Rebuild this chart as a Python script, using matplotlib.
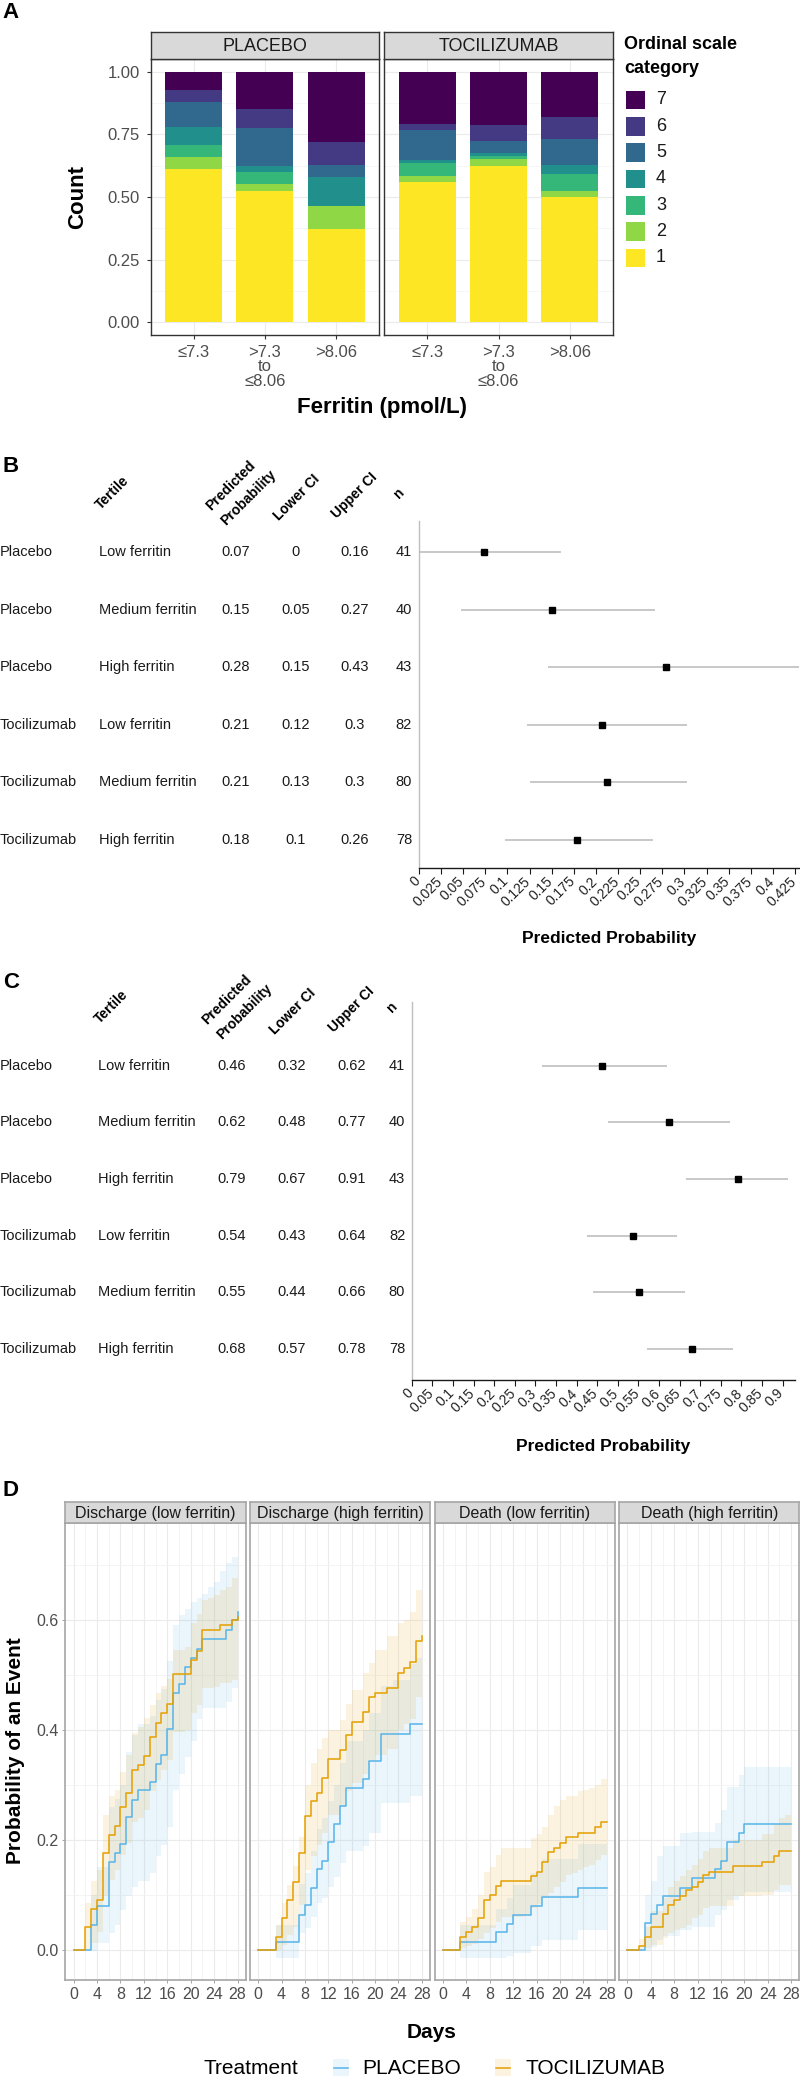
import numpy as np
import matplotlib.pyplot as plt
import matplotlib.transforms as mtransforms
from matplotlib.patches import Rectangle

plt.rcParams['font.family'] = ['Liberation Sans', 'DejaVu Sans']

# ---------------- Panel A: ordinal scale by ferritin tertile ----------------
ferritin_labels = ['≤7.3', '>7.3\nto\n≤8.06', '>8.06']
arm_names = ['PLACEBO', 'TOCILIZUMAB']
ordinal_cats = ['1', '2', '3', '4', '5', '6', '7']
# rows = category 1..7, columns = ferritin tertile
placebo_counts = [[25, 21, 16], [2, 1, 4], [2, 2, 0], [3, 1, 5], [4, 6, 2], [2, 3, 4], [3, 6, 12]]
toc_counts = [[46, 50, 39], [2, 2, 2], [4, 1, 5], [1, 1, 3], [10, 4, 8], [2, 5, 7], [17, 17, 14]]
ordinal_colors = ['#FDE725', '#8FD744', '#35B779', '#21908C', '#31688E', '#443A83', '#440154']

# ---------------- Panels B and C: predicted probabilities ----------------
arm_rows = ['Placebo', 'Placebo', 'Placebo', 'Tocilizumab', 'Tocilizumab', 'Tocilizumab']
tertile_rows = ['Low ferritin', 'Medium ferritin', 'High ferritin'] * 2
n_rows = [41, 40, 43, 82, 80, 78]
b_est = [0.073, 0.150, 0.279, 0.207, 0.212, 0.179]
b_lo = [0.0, 0.048, 0.146, 0.122, 0.126, 0.097]
b_hi = [0.160, 0.267, 0.432, 0.303, 0.303, 0.264]
c_est = [0.4625, 0.625, 0.791, 0.536, 0.551, 0.679]
c_lo = [0.317, 0.477, 0.6655, 0.426, 0.440, 0.571]
c_hi = [0.620, 0.772, 0.914, 0.644, 0.663, 0.779]

# ---------------- Panel D: cumulative incidence ----------------
days = list(range(29))
facet_titles = ['Discharge (low ferritin)', 'Discharge (high ferritin)',
                'Death (low ferritin)', 'Death (high ferritin)']
treatments = ['PLACEBO', 'TOCILIZUMAB']
treat_colors = ['#56B4E9', '#E69F00']

dis_low_toc = [0, 0, .041, .075, .091, .176, .209, .226, .259, .285, .327, .336, .353, .388, .413,
               .430, .448, .501, .501, .501, .527, .544, .582, .582, .582, .591, .591, .600, .606]
dis_low_toc_lo = [0, 0, .000, .012, .033, .097, .127, .145, .173, .194, .233, .240, .255, .288, .309,
                  .327, .345, .397, .397, .400, .430, .445, .476, .476, .478, .485, .485, .490, .495]
dis_low_toc_hi = [0, 0, .085, .125, .145, .245, .279, .290, .324, .355, .394, .405, .421, .445, .467,
                  .480, .493, .545, .545, .550, .594, .610, .636, .640, .645, .655, .660, .676, .680]
dis_low_pla = [0, 0, 0, .045, .079, .079, .159, .176, .192, .241, .273, .290, .290, .306, .338,
               .355, .402, .467, .483, .515, .531, .548, .565, .565, .565, .565, .582, .600, .615]
dis_low_pla_lo = [0, 0, 0, -.003, .012, .012, .030, .045, .073, .097, .115, .125, .125, .139, .170,
                  .190, .224, .290, .320, .350, .380, .420, .440, .440, .440, .440, .450, .476, .512]
dis_low_pla_hi = [0, 0, 0, .100, .150, .150, .260, .275, .300, .360, .390, .410, .410, .425, .455,
                  .475, .525, .590, .609, .620, .633, .640, .648, .660, .670, .690, .703, .715, .724]

dis_high_toc = [0, 0, 0, .023, .058, .091, .124, .176, .244, .270, .286, .312, .347, .347, .364,
                .390, .415, .415, .433, .459, .468, .468, .476, .476, .504, .513, .523, .561, .570]
dis_high_toc_lo = [0, 0, 0, 0, .009, .027, .042, .082, .145, .170, .190, .212, .245, .245, .260,
                   .288, .303, .303, .320, .345, .355, .355, .365, .365, .400, .410, .420, .460, .470]
dis_high_toc_hi = [0, 0, 0, .045, .085, .118, .152, .206, .300, .340, .365, .385, .400, .400, .418,
                   .448, .473, .473, .503, .521, .545, .545, .570, .570, .594, .600, .615, .655, .665]
dis_high_pla = [0, 0, 0, .015, .015, .015, .015, .064, .081, .113, .147, .162, .196, .228, .262,
                .295, .295, .295, .311, .344, .344, .392, .392, .392, .392, .392, .410, .410, .410]
dis_high_pla_lo = [0, 0, 0, -.015, -.015, -.015, -.015, .030, .040, .060, .085, .095, .115, .133, .158,
                   .180, .180, .180, .188, .212, .212, .267, .267, .267, .267, .267, .280, .280, .280]
dis_high_pla_hi = [0, 0, 0, .045, .045, .045, .045, .120, .140, .180, .220, .240, .270, .300, .340,
                   .380, .380, .380, .400, .430, .430, .480, .480, .490, .490, .490, .520, .530, .536]

death_low_toc = [0, 0, 0, .024, .032, .041, .058, .091, .100, .116, .125, .125, .125, .125, .125,
                 .135, .142, .159, .178, .186, .195, .205, .205, .213, .213, .213, .223, .233, .233]
death_low_toc_lo = [0, 0, 0, .003, .006, .010, .020, .030, .040, .050, .060, .060, .060, .060, .062,
                    .076, .084, .095, .103, .115, .124, .136, .140, .145, .150, .155, .164, .173, .182]
death_low_toc_hi = [0, 0, 0, .050, .060, .075, .100, .142, .150, .173, .185, .185, .185, .185, .185,
                    .203, .210, .224, .245, .262, .273, .279, .279, .288, .290, .295, .300, .310, .310]
death_low_pla = [0, 0, 0, .014, .014, .014, .014, .014, .014, .032, .032, .047, .064, .064, .064,
                 .080, .080, .096, .096, .096, .096, .096, .096, .112, .112, .112, .112, .112, .112]
death_low_pla_lo = [0, 0, 0, -.015, -.015, -.015, -.015, -.015, -.015, -.015, -.015, -.012, -.005, -.005, -.005,
                    .006, .006, .018, .018, .018, .018, .018, .018, .036, .036, .036, .036, .036, .036]
death_low_pla_hi = [0, 0, 0, .045, .045, .045, .045, .045, .045, .075, .075, .095, .118, .118, .118,
                    .140, .140, .165, .165, .165, .165, .165, .165, .193, .193, .193, .193, .193, .193]

death_high_toc = [0, 0, .006, .023, .041, .041, .065, .082, .091, .098, .108, .115, .124, .136, .142,
                  .142, .142, .142, .152, .152, .152, .152, .152, .159, .159, .170, .179, .179, .179]
death_high_toc_lo = [0, 0, 0, .003, .009, .009, .021, .030, .036, .040, .045, .058, .064, .076, .080,
                     .080, .080, .080, .097, .097, .097, .097, .097, .100, .100, .109, .118, .118, .121]
death_high_toc_hi = [0, 0, .020, .042, .070, .070, .095, .115, .125, .135, .145, .155, .165, .180, .185,
                     .185, .185, .185, .200, .200, .200, .200, .200, .210, .210, .228, .240, .245, .248]
death_high_pla = [0, 0, 0, .048, .065, .082, .097, .097, .097, .113, .113, .130, .130, .130, .130,
                  .147, .162, .196, .196, .212, .228, .228, .228, .228, .228, .228, .228, .228, .228]
death_high_pla_lo = [0, 0, 0, -.003, .005, .018, .025, .025, .025, .036, .036, .042, .042, .042, .042,
                     .064, .073, .091, .091, .097, .106, .106, .106, .106, .106, .106, .106, .106, .106]
death_high_pla_hi = [0, 0, 0, .100, .125, .170, .188, .188, .188, .212, .212, .215, .215, .215, .215,
                     .230, .255, .297, .297, .318, .333, .333, .333, .333, .333, .333, .333, .333, .333]

# ---------------- figure helpers ----------------
W, H = 800, 2078
fig = plt.figure(figsize=(W / 100, H / 100), dpi=100)
fig.patch.set_facecolor('white')


def box(x0, y0, x1, y1):
    return [x0 / W, 1 - y1 / H, (x1 - x0) / W, (y1 - y0) / H]


# overlay axes in pixel coordinates for free text and legends
ov = fig.add_axes([0, 0, 1, 1], zorder=10)
ov.set_xlim(0, W)
ov.set_ylim(H, 0)
ov.axis('off')
ov.patch.set_alpha(0)


def strip(x0, x1, y0, y1, label, fs, ec, lw):
    s = fig.add_axes(box(x0, y0, x1, y1))
    s.set_facecolor('#D9D9D9')
    s.set_xticks([])
    s.set_yticks([])
    for sp in s.spines.values():
        sp.set_color(ec)
        sp.set_linewidth(lw)
    s.text(0.5, 0.45, label, ha='center', va='center', fontsize=fs, color='#1A1A1A',
           transform=s.transAxes)


# ================= Panel A =================
ov.text(2, 13, 'A', fontsize=16, fontweight='bold', va='center', ha='left')
a_x = [(150.7, 379), (384.3, 612.7)]
for k, (arm, counts) in enumerate(zip(arm_names, [placebo_counts, toc_counts])):
    x0, x1 = a_x[k]
    ax = fig.add_axes(box(x0, 59, x1, 335))
    strip(x0, x1, 31.7, 59, arm, 13, '#333333', 1.0)
    counts = np.array(counts, dtype=float)
    props = counts / counts.sum(axis=0)
    xs = np.arange(1, len(ferritin_labels) + 1)
    bottom = np.zeros(len(xs))
    for c in range(len(ordinal_cats)):
        ax.bar(xs, props[c], 0.8, bottom=bottom, color=ordinal_colors[c], zorder=2, lw=0)
        bottom += props[c]
    ax.set_xlim(0.4, 3.6)
    ax.set_ylim(-0.05, 1.05)
    ax.set_xticks(xs)
    ax.set_xticklabels(ferritin_labels, linespacing=0.95)
    ax.set_yticks([0, 0.25, 0.5, 0.75, 1.0])
    ax.set_yticks([0.125, 0.375, 0.625, 0.875], minor=True)
    ax.grid(which='major', color='#EBEBEB', lw=0.8, zorder=0)
    ax.grid(which='minor', axis='y', color='#F4F4F4', lw=0.5, zorder=0)
    ax.set_axisbelow(True)
    for sp in ax.spines.values():
        sp.set_color('#333333')
        sp.set_linewidth(1.0)
    ax.tick_params(axis='both', length=3, width=0.8, color='#333333',
                   labelcolor='#4D4D4D', labelsize=12)
    ax.tick_params(axis='y', pad=5)
    ax.tick_params(axis='x', pad=4)
    ax.tick_params(which='minor', length=0)
    if k == 0:
        ax.set_yticklabels(['0.00', '0.25', '0.50', '0.75', '1.00'])
    else:
        ax.set_yticklabels([])
        ax.tick_params(axis='y', length=0)

ov.text(78, 197, 'Count', rotation=90, fontsize=16, fontweight='bold', ha='center', va='center')
ov.text(381.7, 408, 'Ferritin (pmol/L)', fontsize=16, fontweight='bold', ha='center', va='center')

# legend A
ov.text(624, 49, 'Ordinal scale', fontsize=13, fontweight='bold', ha='left', va='baseline')
ov.text(624, 72.7, 'category', fontsize=13, fontweight='bold', ha='left', va='baseline')
for i, c in enumerate(range(len(ordinal_cats) - 1, -1, -1)):
    yc = 100 + i * 26.3
    ov.add_patch(Rectangle((626, yc - 9.3), 19, 18.6, facecolor=ordinal_colors[c], lw=0))
    ov.text(656, yc, ordinal_cats[c], fontsize=13, ha='left', va='center', color='#1A1A1A')


# ================= Panels B and C =================
def forest(label, label_y, letter_y, axbox, row1_px, row6_px, xmax, tick_step, n_ticks,
           est, lo, hi, col_x, tick_fs):
    x0, top, x1, bottom = axbox
    ax = fig.add_axes(box(x0, top, x1, bottom))
    spacing = (row6_px - row1_px) / 5
    ax.set_ylim(6 + (bottom - row6_px) / spacing, 1 - (row1_px - top) / spacing)
    ax.set_xlim(0, xmax)
    rows = np.arange(1, 7)
    ax.hlines(rows, lo, hi, color='#BFBFBF', lw=1.2, zorder=2)
    ax.plot(est, rows, 's', color='black', ms=4.5, zorder=3)
    ax.patch.set_alpha(0)
    for s in ['top', 'right']:
        ax.spines[s].set_visible(False)
    ax.spines['left'].set_color('#BEBEBE')
    ax.spines['left'].set_linewidth(1.0)
    ax.spines['bottom'].set_color('#1A1A1A')
    ax.spines['bottom'].set_linewidth(1.0)
    ax.set_yticks([])
    ticks = [round(i * tick_step, 3) for i in range(n_ticks)]
    ax.set_xticks(ticks)
    ax.set_xticklabels([f'{t:g}' for t in ticks], rotation=45, ha='right', va='center',
                       rotation_mode='anchor', fontsize=tick_fs, color='#222222')
    ax.tick_params(axis='x', length=4, width=0.8, color='#1A1A1A', pad=4)
    off = mtransforms.ScaledTranslation(-1 / 100, 0, fig.dpi_scale_trans)
    for lab in ax.get_xticklabels():
        lab.set_transform(lab.get_transform() + off)
    ov.text((x0 + x1) / 2, label_y, 'Predicted Probability',
            ha='center', va='center', fontsize=12.5, fontweight='bold')

    tr = mtransforms.blended_transform_factory(ov.transData, ax.transData)
    cx_arm, cx_ter, cx_est, cx_lo, cx_hi, cx_n = col_x
    for r in range(6):
        y = rows[r]
        kw = dict(transform=tr, fontsize=10.5, va='center', color='#1A1A1A')
        ax.text(cx_arm, y, arm_rows[r], ha='left', **kw)
        ax.text(cx_ter, y, tertile_rows[r], ha='left', **kw)
        ax.text(cx_est, y, f'{round(est[r], 2):g}', ha='center', **kw)
        ax.text(cx_lo, y, f'{round(lo[r], 2):g}', ha='center', **kw)
        ax.text(cx_hi, y, f'{round(hi[r], 2):g}', ha='center', **kw)
        ax.text(cx_n, y, str(n_rows[r]), ha='center', **kw)

    hk = dict(rotation=45, rotation_mode='anchor', ha='left', va='baseline',
              fontsize=10, fontweight='bold')
    ov.text(cx_ter + 2, row1_px - 42, 'Tertile', **hk)
    ov.text(cx_est - 25, row1_px - 41, 'Predicted', **hk)
    ov.text(cx_est - 10, row1_px - 26, 'Probability', **hk)
    ov.text(cx_lo - 17, row1_px - 31, 'Lower CI', **hk)
    ov.text(cx_hi - 18, row1_px - 33, 'Upper CI', **hk)
    ov.text(cx_n - 5, row1_px - 53, 'n', **hk)
    ov.text(3, letter_y, label, fontsize=16, fontweight='bold', va='center', ha='left')


forest('B', 938, 467, (419, 521, 799.4, 868), 552, 840, 0.43, 0.025, 18,
       b_est, b_lo, b_hi, (0, 99, 236, 296, 355, 404), 10)
forest('C', 1446, 982, (411.7, 1001.7, 795, 1380), 1065.7, 1349, 0.93, 0.05, 19,
       c_est, c_lo, c_hi, (0, 97.7, 232, 292, 352, 397), 10)

# ================= Panel D =================
ov.text(3, 1490, 'D', fontsize=16, fontweight='bold', va='center', ha='left')
facet_data = [
    [(dis_low_pla, dis_low_pla_lo, dis_low_pla_hi), (dis_low_toc, dis_low_toc_lo, dis_low_toc_hi)],
    [(dis_high_pla, dis_high_pla_lo, dis_high_pla_hi), (dis_high_toc, dis_high_toc_lo, dis_high_toc_hi)],
    [(death_low_pla, death_low_pla_lo, death_low_pla_hi), (death_low_toc, death_low_toc_lo, death_low_toc_hi)],
    [(death_high_pla, death_high_pla_lo, death_high_pla_hi), (death_high_toc, death_high_toc_lo, death_high_toc_hi)],
]
d_x = [(65.3, 245.7), (250, 430), (434.7, 615), (619.3, 799.3)]
for f, title in enumerate(facet_titles):
    x0, x1 = d_x[f]
    ax = fig.add_axes(box(x0, 1522.7, x1, 1980))
    strip(x0, x1, 1502, 1522.7, title, 11.5, '#A6A6A6', 1.2)
    for (est, lo, hi), col in zip(facet_data[f], treat_colors):
        ax.fill_between(days, lo, hi, step='post', color=col, alpha=0.12, lw=0, zorder=2)
    for (est, lo, hi), col in zip(facet_data[f], treat_colors):
        ax.step(days, est, where='post', color=col, lw=1.1, zorder=3)
    ax.set_xlim(-1.4, 29.4)
    ax.set_ylim(-0.055, 0.777)
    ax.set_xticks(range(0, 29, 4))
    ax.set_xticks(range(2, 29, 4), minor=True)
    ax.set_yticks([0, 0.2, 0.4, 0.6])
    ax.set_yticks([0.1, 0.3, 0.5, 0.7], minor=True)
    ax.grid(which='major', color='#EBEBEB', lw=0.8, zorder=0)
    ax.grid(which='minor', color='#F2F2F2', lw=0.6, zorder=0)
    ax.set_axisbelow(True)
    for sp in ax.spines.values():
        sp.set_color('#A6A6A6')
        sp.set_linewidth(1.2)
    ax.tick_params(axis='both', length=2.5, width=0.7, color='#A6A6A6',
                   labelcolor='#4D4D4D', labelsize=11.5, pad=2.5)
    ax.tick_params(which='minor', length=0)
    if f == 0:
        ax.set_yticklabels(['0.0', '0.2', '0.4', '0.6'])
    else:
        ax.set_yticklabels([])
        ax.tick_params(axis='y', length=0)

ov.text(16, 1751, 'Probability of an Event', rotation=90, fontsize=15, fontweight='bold',
        ha='center', va='center')
ov.text(432, 2032, 'Days', fontsize=15, fontweight='bold', ha='center', va='center')

# legend D
ov.text(203, 2068, 'Treatment', fontsize=15, ha='left', va='center')
for (kx, tx), name, col in zip([(333, 362), (495, 525)], treatments, treat_colors):
    ov.add_patch(Rectangle((kx, 2059), 16, 17, facecolor=col, alpha=0.12, lw=0))
    ov.plot([kx + 1, kx + 15], [2067.5, 2067.5], color=col, lw=1.1)
    ov.text(tx, 2068, name, fontsize=15, ha='left', va='center')

fig.savefig('out.png', dpi=100, facecolor='white')
